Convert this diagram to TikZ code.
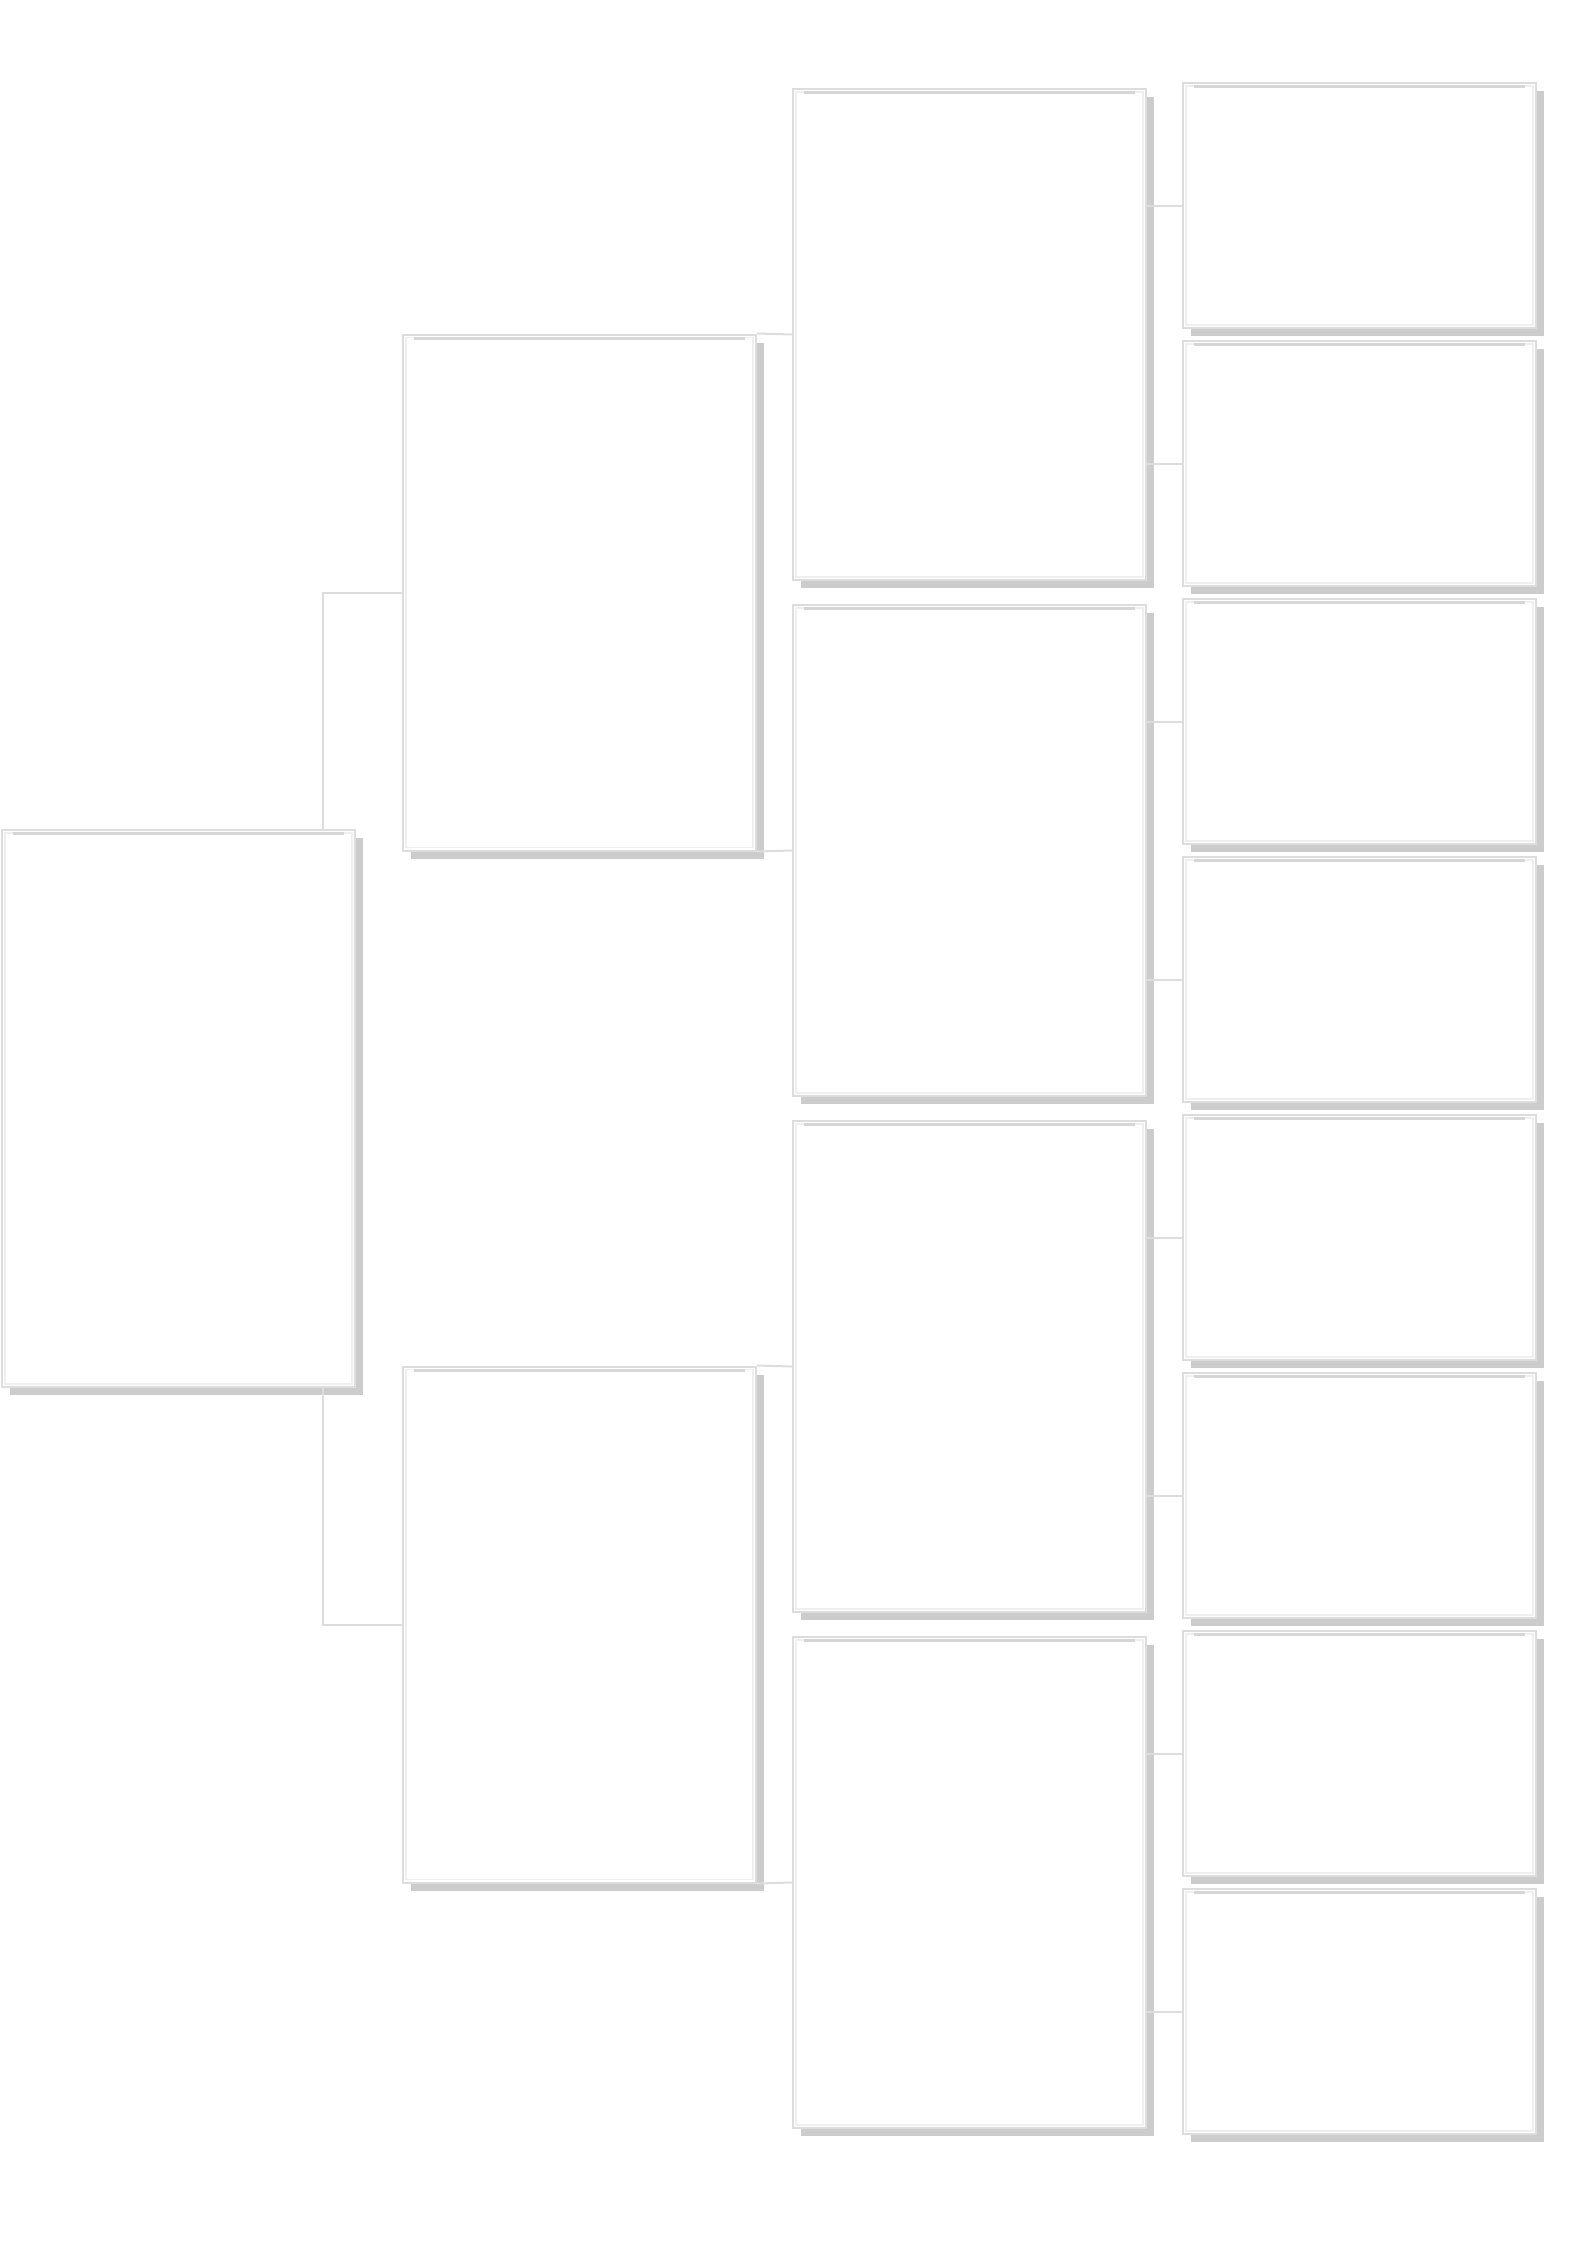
\documentclass[tikz,border=0pt]{standalone}
\usepackage{tikz}
\usetikzlibrary{shadows}
\definecolor{boxline}{HTML}{DDDDDD}
\definecolor{boxinner}{HTML}{EFEFEF}
\definecolor{boxtop}{HTML}{D6D6D6}
\definecolor{boxshadow}{HTML}{CCCCCC}
\tikzset{>=latex}
\tikzset{
    card/.style={draw=boxline, fill=white, line width=0.02cm, inner sep=0pt, anchor=north west,
        minimum width=3.53cm,
        drop shadow={shadow xshift=0.08cm, shadow yshift=-0.08cm, fill=boxshadow, opacity=1},
        path picture={
            \draw[boxinner, line width=0.015cm]([shift={(0.03, -0.03)}]path picture bounding box.north west)rectangle([shift={(-0.03, 0.03)}]path picture bounding box.south east);
            \draw[boxtop, line width=0.03cm]([shift={(0.11, -0.035)}]path picture bounding box.north west)--([shift={(-0.11, -0.035)}]path picture bounding box.north east);
        }},
    link/.style={draw=boxline, line width=0.02cm}
}

\begin{document}
\begin{tikzpicture}
    \useasboundingbox (0, 0) rectangle (15.88, -22.46);
    \begin{scope}
        \node[card, minimum height=5.57cm](root) at (0.01, -8.29){};
        \node[card, minimum height=5.16cm](a1) at (4.02, -3.335){};
        \node[card, minimum height=5.16cm](a2) at (4.02, -13.655){};
        \foreach \i in {1, ..., 4}
            \node[card, minimum height=4.91cm](b\i) at (7.92, {-0.88-5.16*(\i-1)}){};
        \foreach \i in {1, ..., 8}
            \node[card, minimum height=2.45cm](c\i) at (11.82, {-0.82-2.58*(\i-1)}){};
    \end{scope}
    \draw[link]([xshift=-0.33cm]root.north east)|-(a1.west);
    \draw[link]([xshift=-0.33cm]root.south east)|-(a2.west);
    \foreach \a/\b/\c in {a1/b1/b2, a2/b3/b4}{
        \draw[link](\a.north east)--(\b.west);
        \draw[link](\a.south east)--(\c.west);
    }
    \foreach \b/\c/\d in {b1/c1/c2, b2/c3/c4, b3/c5/c6, b4/c7/c8}{
        \draw[link](\b.east |- \c.west)--(\c.west);
        \draw[link](\b.east |- \d.west)--(\d.west);
    }
\end{tikzpicture}
\end{document}
